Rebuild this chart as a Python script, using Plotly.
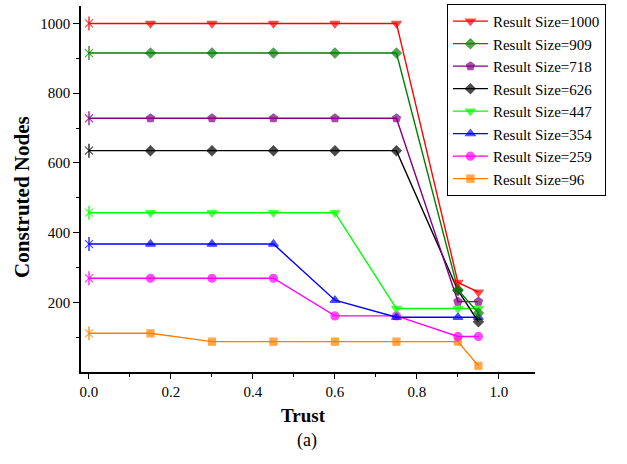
import plotly.graph_objects as go

trust = [0.0, 0.15, 0.3, 0.45, 0.6, 0.75, 0.9, 0.95]

series_names = ["Result Size=1000", "Result Size=909", "Result Size=718", "Result Size=626",
                "Result Size=447", "Result Size=354", "Result Size=259", "Result Size=96"]

nodes_1000 = [1000, 1000, 1000, 1000, 1000, 1000, 257, 229]
nodes_909 = [915, 915, 915, 915, 915, 915, 236, 169]
nodes_718 = [728, 728, 728, 728, 728, 728, 202, 202]
nodes_626 = [635, 635, 635, 635, 635, 635, 234, 144]
nodes_447 = [457, 457, 457, 457, 457, 182, 182, 182]
nodes_354 = [367, 367, 367, 367, 206, 157, 157, 157]
nodes_259 = [269, 269, 269, 269, 161, 161, 102, 102]
nodes_96 = [111, 111, 87, 87, 87, 87, 87, 18]

all_series = [nodes_1000, nodes_909, nodes_718, nodes_626, nodes_447, nodes_354, nodes_259, nodes_96]
colors = ["#FF0000", "#008000", "#800080", "#000000", "#00FF00", "#0000FF", "#FF00FF", "#FF8000"]
symbols = ["triangle-down", "diamond", "pentagon", "diamond", "triangle-down", "triangle-up", "circle", "square"]
sizes = [8.5, 7.5, 8.5, 7.5, 8.5, 8.5, 8, 7]

FONT = "Liberation Serif, Times New Roman, serif"

fig = go.Figure()

# draw the last series first so the first series sits on top (as in the reference)
order = list(range(len(series_names)))[::-1]
for i in order:
    name, ys, col, sym, sz = series_names[i], all_series[i], colors[i], symbols[i], sizes[i]
    xr = trust[::-1]
    yr = ys[::-1]
    syms = [sym] * (len(xr) - 1) + ["x-thin-open"]
    szs = [sz] * (len(xr) - 1) + [8]
    fig.add_trace(go.Scatter(
        x=xr, y=yr, name=name, mode="lines+markers", legendrank=i + 1,
        line=dict(color=col, width=1.4),
        marker=dict(symbol=syms, size=szs, color=col, line=dict(color=col, width=1.2)),
    ))
    fig.add_trace(go.Scatter(
        x=[trust[0]], y=[ys[0]], mode="markers", showlegend=False, hoverinfo="skip",
        marker=dict(symbol="line-ns-open", size=10, color=col, line=dict(color=col, width=1.2)),
    ))

fig.update_layout(
    width=627, height=464,
    margin=dict(l=81, r=92, t=5, b=92),
    paper_bgcolor="white", plot_bgcolor="white",
    font=dict(family=FONT, size=15, color="black"),
    showlegend=True,
    legend=dict(
        x=0.806, y=1.003, xanchor="left", yanchor="top",
        bgcolor="white", bordercolor="black", borderwidth=1,
        font=dict(family=FONT, size=15, color="black"),
        itemwidth=35, tracegroupgap=0, traceorder="normal",
    ),
    xaxis=dict(
        range=[-0.0195, 1.088], showgrid=False, zeroline=False,
        showline=True, linecolor="black", linewidth=1.5,
        ticks="outside", ticklen=5, tickwidth=1.3, tickcolor="black",
        tickvals=[0.0, 0.2, 0.4, 0.6, 0.8, 1.0], tickformat=".1f",
        tickfont=dict(family=FONT, size=15),
        minor=dict(tickvals=[0.1, 0.3, 0.5, 0.7, 0.9], ticks="outside", ticklen=3,
                   tickwidth=1.3, tickcolor="black", showgrid=False),
    ),
    yaxis=dict(
        range=[0, 1050], showgrid=False, zeroline=False,
        showline=True, linecolor="black", linewidth=1.5,
        ticks="outside", ticklen=6, tickwidth=1.3, tickcolor="black",
        tickvals=[200, 400, 600, 800, 1000],
        tickfont=dict(family=FONT, size=15),
        minor=dict(tickvals=[100, 300, 500, 700, 900], ticks="outside", ticklen=3,
                   tickwidth=1.3, tickcolor="black", showgrid=False),
    ),
    annotations=[
        dict(text="<b>Trust</b>", x=0.489, y=-0.12, xref="paper", yref="paper",
             xanchor="center", yanchor="middle", showarrow=False,
             font=dict(family=FONT, size=19, color="black")),
        dict(text="<b>Construted Nodes</b>", x=-0.1289, y=0.4796, xref="paper", yref="paper",
             xanchor="center", yanchor="middle", showarrow=False, textangle=-90,
             font=dict(family=FONT, size=21, color="black")),
        dict(text="(a)", x=0.4967, y=-0.188, xref="paper", yref="paper",
             xanchor="center", yanchor="middle", showarrow=False,
             font=dict(family=FONT, size=18, color="black")),
    ],
)

fig.write_html("out.html", config={"displayModeBar": False},
               post_script="document.body.style.margin='0';")
